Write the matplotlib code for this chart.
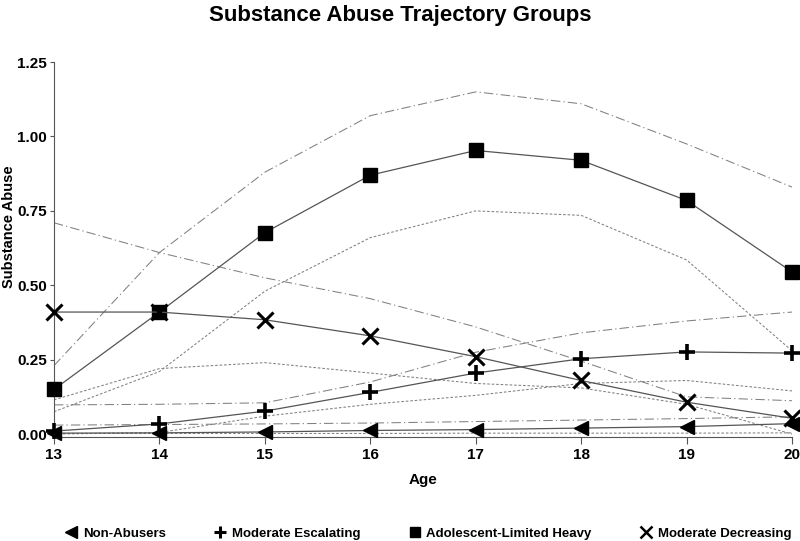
import matplotlib
matplotlib.use('Agg')
import matplotlib.pyplot as plt
from matplotlib.lines import Line2D

plt.rcParams['font.family'] = ['Liberation Sans', 'DejaVu Sans']
plt.rcParams['font.weight'] = 'bold'

ages = [13, 14, 15, 16, 17, 18, 19, 20]

# group estimates
non_abusers = [0.003, 0.004, 0.007, 0.012, 0.015, 0.020, 0.025, 0.035]
mod_escalating = [0.010, 0.034, 0.077, 0.140, 0.205, 0.253, 0.276, 0.272]
adol_heavy = [0.150, 0.410, 0.677, 0.870, 0.953, 0.920, 0.785, 0.545]
mod_decreasing = [0.410, 0.410, 0.384, 0.330, 0.260, 0.180, 0.107, 0.053]

# confidence bands
non_upper = [0.030, 0.032, 0.034, 0.037, 0.042, 0.047, 0.052, 0.058]
non_lower = [0.002, 0.002, 0.002, 0.002, 0.003, 0.003, 0.003, 0.004]
esc_upper = [0.098, 0.100, 0.105, 0.175, 0.275, 0.340, 0.380, 0.410]
esc_lower = [0.000, 0.005, 0.060, 0.100, 0.130, 0.170, 0.180, 0.145]
heavy_upper = [0.230, 0.610, 0.880, 1.070, 1.150, 1.110, 0.975, 0.830]
heavy_lower = [0.075, 0.210, 0.480, 0.660, 0.750, 0.735, 0.585, 0.280]
dec_upper = [0.710, 0.610, 0.525, 0.455, 0.360, 0.245, 0.125, 0.112]
dec_lower = [0.115, 0.220, 0.240, 0.205, 0.170, 0.155, 0.100, 0.000]

labels = ['Non-Abusers', 'Moderate Escalating', 'Adolescent-Limited Heavy', 'Moderate Decreasing']
estimates = [non_abusers, mod_escalating, adol_heavy, mod_decreasing]
uppers = [non_upper, esc_upper, heavy_upper, dec_upper]
lowers = [non_lower, esc_lower, heavy_lower, dec_lower]

fig = plt.figure(figsize=(8, 5.41), dpi=100)
ax = fig.add_axes([0.0675, 0.1922, 0.9225, 0.693])

upper_style = (0, (9, 3, 1.2, 3))
lower_style = (0, (2.5, 1.8))
for up, lo in zip(uppers, lowers):
    ax.plot(ages, up, color='#808080', lw=0.75, linestyle=upper_style)
    ax.plot(ages, lo, color='#808080', lw=0.75, linestyle=lower_style)

markers = [
    dict(marker='<', ms=10, mfc='black', mec='black'),
    dict(marker='+', ms=12, mew=2.6, mec='black'),
    dict(marker='s', ms=10, mfc='black', mec='black'),
    dict(marker='x', ms=11, mew=2.2, mec='black'),
]
for est, mk in zip(estimates, markers):
    ax.plot(ages, est, color='#555555', lw=0.9, clip_on=False, zorder=3, **mk)

ax.set_xlim(13, 20)
ax.set_ylim(-0.01, 1.25)
ax.set_xticks(ages)
ax.set_yticks([0.0, 0.25, 0.5, 0.75, 1.0, 1.25])
ax.set_yticklabels(['0.00', '0.25', '0.50', '0.75', '1.00', '1.25'])
ax.spines['top'].set_visible(False)
ax.spines['right'].set_visible(False)
for s in ['left', 'bottom']:
    ax.spines[s].set_color('#555555')
    ax.spines[s].set_linewidth(0.8)
ax.tick_params(axis='x', length=5, width=0.8, color='#555555', labelsize=11, pad=3)
ax.tick_params(axis='y', length=3, width=0.8, color='#555555', labelsize=11, pad=2)
for t in ax.get_xticklabels() + ax.get_yticklabels():
    t.set_fontweight('bold')

ax.set_xlabel('Age', fontsize=11, fontweight='bold', labelpad=8)
ax.set_ylabel('Substance Abuse', fontsize=10.5, fontweight='bold')
ax.yaxis.set_label_coords(-0.051, 0.56)
fig.suptitle('Substance Abuse Trajectory Groups', fontsize=16, fontweight='bold', y=0.99)

handles = [
    Line2D([], [], linestyle='none', marker='<', ms=8, mfc='black', mec='black'),
    Line2D([], [], linestyle='none', marker='+', ms=9, mew=2.2, mec='black'),
    Line2D([], [], linestyle='none', marker='s', ms=7, mfc='black', mec='black'),
    Line2D([], [], linestyle='none', marker='x', ms=8, mew=1.8, mec='black'),
]
fig.legend(handles, labels, loc='lower center', bbox_to_anchor=(0.535, -0.02), ncol=4,
           frameon=False, handlelength=1.0, handletextpad=0.4,
           columnspacing=3.6, prop={'weight': 'bold', 'size': 9.5})

fig.savefig('out.png', dpi=100)
